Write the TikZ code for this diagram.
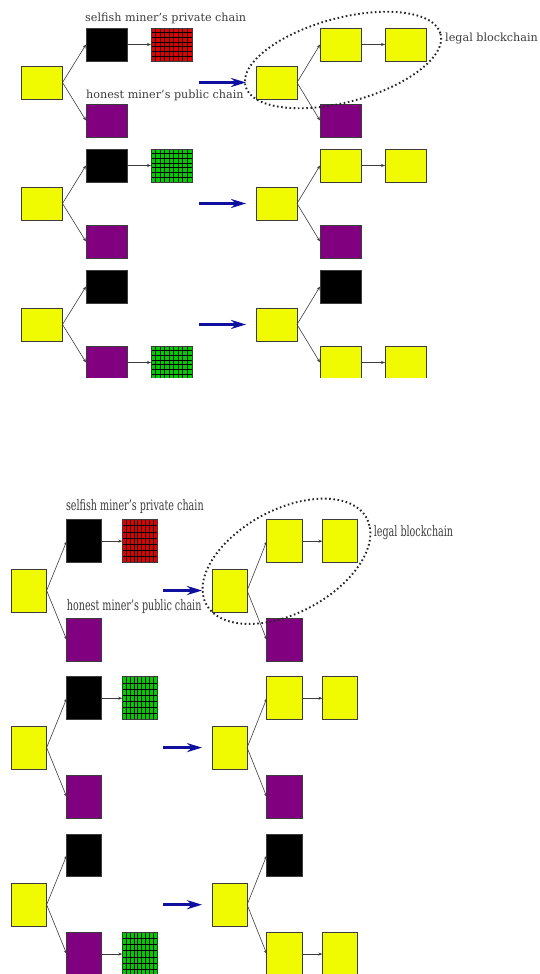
\documentclass[tikz,border=0pt]{standalone}
\usepackage{fontspec}
\setmainfont{DejaVu Serif}
\usetikzlibrary{arrows.meta,calc}

\definecolor{blockyellow}{RGB}{240,250,0}
\definecolor{blockpurple}{RGB}{128,0,128}
\definecolor{gridred}{RGB}{225,0,0}
\definecolor{gridgreen}{RGB}{0,205,0}
\definecolor{arrowblue}{RGB}{15,15,160}
\definecolor{linkgray}{RGB}{60,60,60}
\definecolor{labelgray}{RGB}{60,60,60}

\tikzset{
  blk/.style={draw=linkgray, line width=0.7pt, minimum width=41pt, minimum height=33pt,
    inner sep=0pt, outer sep=0pt},
  yblk/.style={blk, fill=blockyellow},
  pblk/.style={blk, fill=blockpurple},
  kblk/.style={blk, fill=black},
  gblk/.style={blk, fill=#1, path picture={
      \foreach \k in {1,...,8}
        \draw[black, line width=0.8pt]
          ($(path picture bounding box.south west)!\k/9!(path picture bounding box.south east)$) --
          ($(path picture bounding box.north west)!\k/9!(path picture bounding box.north east)$);
      \foreach \k in {1,...,6}
        \draw[black, line width=0.8pt]
          ($(path picture bounding box.south west)!\k/7!(path picture bounding box.north west)$) --
          ($(path picture bounding box.south east)!\k/7!(path picture bounding box.north east)$);
  }},
  link/.style={draw=linkgray, line width=0.6pt, -{Stealth[length=4pt,width=3pt]}},
  shiftarrow/.style={draw=arrowblue, line width=3.5pt, -{Stealth[length=15pt,width=9pt]},
    shorten >=10pt},
  caption/.style={text=labelgray, font=\fontsize{11.2}{12}\selectfont, inner sep=0pt, anchor=west},
  legalring/.style={draw=black!85, line width=1.9pt, dash pattern=on 1.6pt off 2.6pt},
}

% One copy of the three fork scenarios; #1 prefixes every node name
\newcommand\chainfig[1]{%
  % --- scenario 1: selfish miner ahead by two ---
  \node[yblk] (#1a0) at (42,82.5) {};
  \node[kblk] (#1a1) at (106.5,44.5) {};
  \node[gblk=gridred] (#1a2) at (171.5,44.5) {};
  \node[pblk] (#1a3) at (106.5,120.5) {};
  \draw[link] (#1a0.east) -- (#1a1.west);
  \draw[link] (#1a1.east) -- (#1a2.west);
  \draw[link] (#1a0.east) -- (#1a3.west);
  \node[caption] (#1t1) at (85,18) {selfish miner's private chain};
  \node[caption] (#1t2) at (86,95) {honest miner's public chain};
  \coordinate (#1s1) at (199,82.5);
  \node[yblk] (#1b0) at (276.5,82.5) {};
  \node[yblk] (#1b1) at (340.5,44.5) {};
  \node[yblk] (#1b2) at (405.5,44.5) {};
  \node[pblk] (#1b3) at (340.5,120.5) {};
  \draw[shiftarrow] (#1s1) -- (#1b0.west);
  \draw[link] (#1b0.east) -- (#1b1.west);
  \draw[link] (#1b1.east) -- (#1b2.west);
  \draw[link] (#1b0.east) -- (#1b3.west);
  \draw[legalring, rotate around={15:(343,60)}] (343,60) ellipse [x radius=101, y radius=42];
  \node[caption] (#1t3) at (445,38) {legal blockchain};
  % --- scenario 2 ---
  \node[yblk] (#1c0) at (42,203.5) {};
  \node[kblk] (#1c1) at (106.5,165.5) {};
  \node[gblk=gridgreen] (#1c2) at (171.5,165.5) {};
  \node[pblk] (#1c3) at (106.5,241.5) {};
  \draw[link] (#1c0.east) -- (#1c1.west);
  \draw[link] (#1c1.east) -- (#1c2.west);
  \draw[link] (#1c0.east) -- (#1c3.west);
  \coordinate (#1s2) at (199,203.5);
  \node[yblk] (#1d0) at (276.5,203.5) {};
  \node[yblk] (#1d1) at (340.5,165.5) {};
  \node[yblk] (#1d2) at (405.5,165.5) {};
  \node[pblk] (#1d3) at (340.5,241.5) {};
  \draw[shiftarrow] (#1s2) -- (#1d0.west);
  \draw[link] (#1d0.east) -- (#1d1.west);
  \draw[link] (#1d1.east) -- (#1d2.west);
  \draw[link] (#1d0.east) -- (#1d3.west);
  % --- scenario 3 ---
  \node[yblk] (#1e0) at (42,324.5) {};
  \node[kblk] (#1e1) at (106.5,286.5) {};
  \node[pblk] (#1e3) at (106.5,362.5) {};
  \node[gblk=gridgreen] (#1e4) at (171.5,362.5) {};
  \draw[link] (#1e0.east) -- (#1e1.west);
  \draw[link] (#1e0.east) -- (#1e3.west);
  \draw[link] (#1e3.east) -- (#1e4.west);
  \coordinate (#1s3) at (199,324.5);
  \node[yblk] (#1f0) at (276.5,324.5) {};
  \node[kblk] (#1f1) at (340.5,286.5) {};
  \node[yblk] (#1f3) at (340.5,362.5) {};
  \node[yblk] (#1f4) at (405.5,362.5) {};
  \draw[shiftarrow] (#1s3) -- (#1f0.west);
  \draw[link] (#1f0.east) -- (#1f1.west);
  \draw[link] (#1f0.east) -- (#1f3.west);
  \draw[link] (#1f3.east) -- (#1f4.west);
}

\begin{document}
\begin{tikzpicture}[x=1pt, y=-1pt]
  \useasboundingbox (0,0) rectangle (539,974);
  \fill[white] (0,0) rectangle (539,974);
  % upper copy, cut off just below the last row
  \begin{scope}
    \clip (0,0) rectangle (539,377.5);
    \chainfig{u}
  \end{scope}
  % lower copy, squeezed sideways and stretched downwards
  \begin{scope}[shift={(-6.8,483.4)}, xscale=0.855, yscale=1.298, transform shape]
    \chainfig{l}
  \end{scope}
\end{tikzpicture}
\end{document}
